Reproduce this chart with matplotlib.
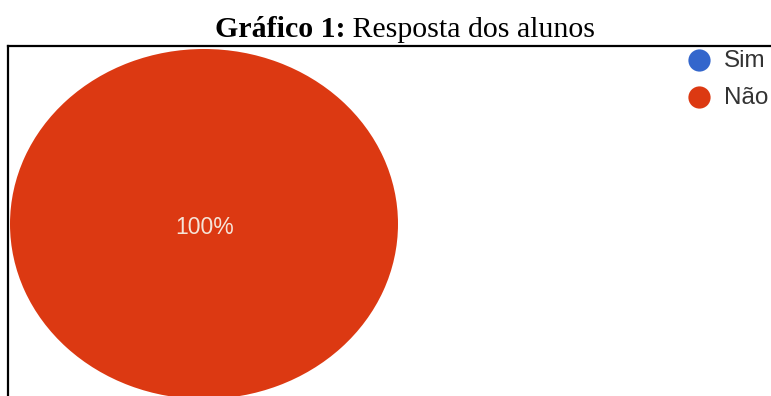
import matplotlib
matplotlib.use("Agg")
import matplotlib.pyplot as plt
from matplotlib.lines import Line2D

categories = ["Sim", "Não"]
values = [0, 100]
colors = ["#3366CC", "#DC3912"]
title_bold = "Gráfico 1:"
title_rest = " Resposta dos alunos"

W, H = 771, 396
fig = plt.figure(figsize=(W / 100, H / 100), dpi=100)

def fx(px):
    return px / W

def fy(py):
    return 1 - py / H

# pie axes (ellipse spans x 10..398, y 49..399 in pixels)
ax = fig.add_axes([fx(10), fy(399), fx(388), 350 / H])
total = sum(values)
wedges, _ = ax.pie(values, colors=colors, startangle=90, counterclock=False,
                   wedgeprops=dict(linewidth=0))
ax.set_aspect("auto")
ax.set_xlim(-1, 1)
ax.set_ylim(-1, 1)
ax.axis("off")
for v in values:
    if v == total:
        ax.text(0.005, -0.02, f"{v / total * 100:.0f}%", ha="center", va="center",
                color="#f6e4d8", fontsize=16.5, family="Liberation Sans")

# legend
leg_y = [60, 97]
for cat, col, y in zip(categories, colors, leg_y):
    fig.add_artist(Line2D([fx(699)], [fy(y)], marker="o", markersize=16,
                          color=col, markeredgewidth=0, linestyle="none"))
    fig.text(fx(724), fy(y + 1), cat, ha="left", va="center", fontsize=17.5,
             color="#333333", family="Liberation Sans")

# frame lines
fig.add_artist(Line2D([fx(8), fx(771)], [fy(46), fy(46)], color="black", lw=1.6))
fig.add_artist(Line2D([fx(8), fx(8)], [fy(46), fy(396)], color="black", lw=1.6))

# title (bold part + regular part, centered together)
fig.canvas.draw()
r = fig.canvas.get_renderer()
tb = fig.text(0, fy(37), title_bold, fontsize=21.5, fontweight="bold",
              family="Liberation Serif", va="baseline")
tr = fig.text(0, fy(37), title_rest, fontsize=21.5,
              family="Liberation Serif", va="baseline")
wb = tb.get_window_extent(r).width
wr = tr.get_window_extent(r).width
start = 405 - (wb + wr) / 2
tb.set_x(fx(start))
tr.set_x(fx(start + wb))

fig.savefig("out.png", dpi=100)
